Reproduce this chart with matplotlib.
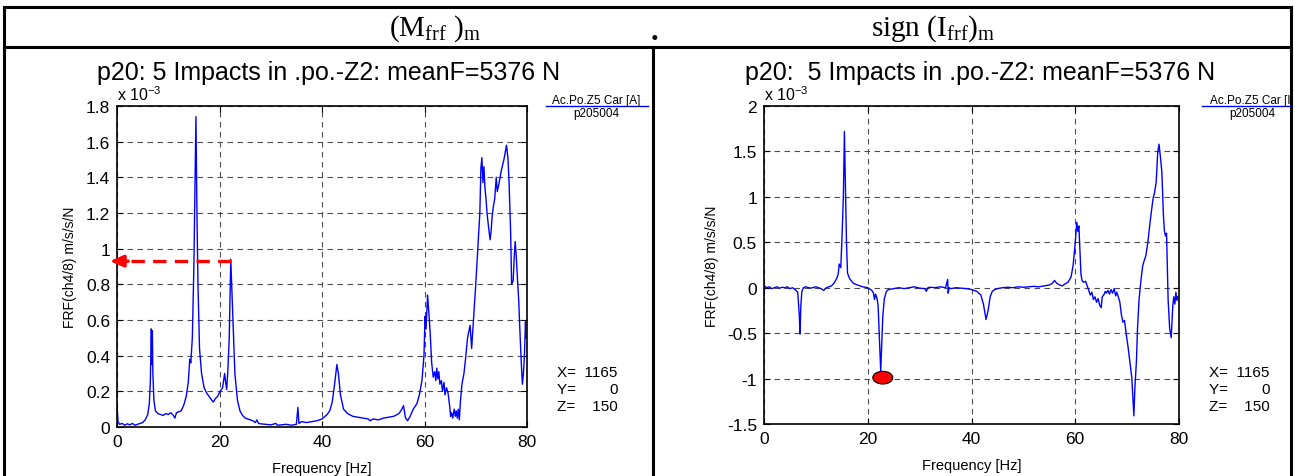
import matplotlib
matplotlib.use('Agg')
import matplotlib.pyplot as plt
from matplotlib.lines import Line2D
from matplotlib.patches import Ellipse, Rectangle
from matplotlib.ticker import FuncFormatter

plt.rcParams['font.family'] = ['Liberation Sans', 'DejaVu Sans']

# magnitude of FRF, values in units of 1e-3 m/s/s/N
mag_freq = [0.0, 0.2, 0.5, 1.0, 1.5, 2.0, 2.5, 3.0, 3.5, 4.0, 4.5, 5.0, 5.5, 6.0, 6.3, 6.5,
            6.7, 6.8, 6.9, 7.0, 7.2, 7.5, 8.0, 8.5, 9.0, 9.5, 10.0, 10.5, 11.0, 11.3, 11.6,
            12.0, 12.5, 13.0, 13.5, 13.9, 14.2, 14.4, 14.7, 15.0, 15.2, 15.4, 15.6, 15.8,
            16.1, 16.5, 17.0, 17.5, 18.0, 18.5, 18.8, 19.2, 19.6, 20.1, 20.6, 21.0, 21.2,
            21.4, 21.6, 21.9, 22.2, 22.5, 22.8, 23.0, 23.5, 24.0, 24.5, 25.0, 26.0, 26.5,
            27.0, 27.3, 27.6, 28.0, 29.0, 30.0, 31.0, 31.3, 32.0, 33.0, 34.0, 35.0, 35.3,
            35.5, 36.0, 37.0, 38.0, 39.0, 40.0, 41.0, 41.5, 42.0, 42.5, 42.9, 43.2, 43.6,
            44.2, 45.0, 46.0, 47.0, 48.0, 49.0, 49.4, 50.0, 51.0, 52.0, 53.0, 54.0, 55.0,
            55.6, 55.9, 56.3, 56.7, 57.2, 57.8, 58.5, 59.0, 59.5, 59.9, 60.1, 60.3, 60.6,
            60.9, 61.1, 61.4, 61.7, 62.0, 62.2, 62.4, 62.6, 62.8, 63.0, 63.3, 63.5, 63.8,
            64.0, 64.3, 64.6, 64.9, 65.1, 65.3, 65.5, 65.8, 66.0, 66.2, 66.4, 66.6, 66.8,
            67.0, 67.3, 67.7, 68.0, 68.4, 68.9, 69.2, 69.6, 70.0, 70.3, 70.5, 70.8, 71.0,
            71.2, 71.4, 71.6, 71.8, 72.0, 72.2, 72.5, 72.8, 73.0, 73.2, 73.4, 73.7, 74.0,
            74.2, 74.5, 75.0, 75.5, 76.0, 76.3, 76.5, 76.8, 77.0, 77.3, 77.5, 77.7, 77.9,
            78.1, 78.4, 78.6, 78.9, 79.1, 79.3, 79.5, 79.7, 79.8]
mag_vals = [0.12, 0.03, 0.015, 0.02, 0.01, 0.018, 0.012, 0.02, 0.01, 0.015, 0.02, 0.025, 0.04,
            0.07, 0.13, 0.25, 0.55, 0.35, 0.54, 0.3, 0.15, 0.09, 0.075, 0.07, 0.065, 0.075,
            0.07, 0.08, 0.065, 0.05, 0.08, 0.085, 0.09, 0.12, 0.17, 0.25, 0.38, 0.36, 0.5,
            0.9, 1.3, 1.74, 1.2, 0.8, 0.44, 0.3, 0.22, 0.19, 0.17, 0.15, 0.14, 0.16, 0.17,
            0.2, 0.22, 0.3, 0.25, 0.21, 0.3, 0.5, 0.94, 0.7, 0.45, 0.3, 0.15, 0.09, 0.065,
            0.05, 0.04, 0.035, 0.025, 0.04, 0.02, 0.018, 0.015, 0.012, 0.02, 0.01, 0.012,
            0.015, 0.01, 0.015, 0.11, 0.02, 0.03, 0.025, 0.03, 0.035, 0.045, 0.07, 0.09,
            0.14, 0.25, 0.35, 0.3, 0.18, 0.1, 0.075, 0.06, 0.055, 0.05, 0.045, 0.035, 0.045,
            0.04, 0.05, 0.055, 0.06, 0.075, 0.1, 0.12, 0.05, 0.035, 0.06, 0.1, 0.13, 0.18,
            0.26, 0.4, 0.62, 0.55, 0.74, 0.62, 0.53, 0.36, 0.28, 0.31, 0.26, 0.33, 0.27,
            0.31, 0.24, 0.26, 0.2, 0.25, 0.18, 0.22, 0.19, 0.12, 0.06, 0.08, 0.05, 0.1, 0.06,
            0.09, 0.05, 0.1, 0.04, 0.14, 0.24, 0.3, 0.38, 0.5, 0.57, 0.44, 0.62, 0.8, 0.95,
            1.05, 1.2, 1.45, 1.51, 1.37, 1.46, 1.34, 1.28, 1.2, 1.12, 1.05, 1.1, 1.18, 1.23,
            1.28, 1.4, 1.32, 1.36, 1.44, 1.5, 1.58, 1.5, 1.37, 1.1, 0.8, 0.82, 0.95, 1.04,
            0.96, 0.85, 0.7, 0.55, 0.35, 0.24, 0.3, 0.4, 0.59, 0.5]

# signed imaginary part, values in units of 1e-3
imag_freq = [0.0, 0.1, 0.5, 1.0, 1.5, 2.0, 2.5, 3.0, 3.5, 4.0, 4.5, 5.0, 5.5, 6.0, 6.5, 6.8,
             6.95, 7.1, 7.3, 7.6, 8.0, 9.0, 10.0, 11.0, 11.5, 12.0, 13.0, 13.5, 14.0, 14.3,
             14.5, 14.8, 15.0, 15.3, 15.5, 15.7, 15.9, 16.1, 16.5, 17.2, 18.0, 19.0, 20.0,
             20.8, 21.1, 21.3, 21.5, 21.8, 22.0, 22.2, 22.5, 22.7, 22.9, 23.2, 23.6, 24.0,
             25.0, 26.0, 27.0, 28.0, 29.0, 30.0, 31.0, 31.3, 31.6, 32.0, 33.0, 34.0, 35.0,
             35.4, 35.5, 35.7, 36.0, 37.0, 38.0, 39.0, 40.0, 41.0, 41.8, 42.3, 42.8, 43.2,
             43.6, 44.0, 44.5, 45.0, 46.0, 47.0, 48.0, 49.0, 50.0, 51.0, 52.0, 53.0, 54.0,
             55.0, 55.6, 56.0, 56.4, 57.0, 57.5, 58.0, 58.6, 59.2, 59.6, 60.0, 60.3, 60.5,
             60.7, 60.9, 61.1, 61.3, 61.6, 62.0, 62.3, 62.6, 62.9, 63.2, 63.5, 63.8, 64.1,
             64.4, 64.7, 65.0, 65.2, 65.5, 65.8, 66.0, 66.3, 66.6, 66.9, 67.2, 67.5, 67.8,
             68.0, 68.3, 68.6, 68.9, 69.2, 69.5, 69.8, 70.2, 70.5, 70.7, 70.9, 71.1, 71.3,
             71.5, 71.8, 72.0, 72.3, 72.7, 73.0, 73.3, 73.6, 74.0, 74.3, 74.7, 75.0, 75.3,
             75.6, 75.9, 76.15, 76.4, 76.7, 77.0, 77.2, 77.4, 77.6, 77.9, 78.2, 78.5, 78.8,
             79.0, 79.2, 79.4, 79.6, 79.8]
imag_vals = [-0.08, 0.02, 0.0, 0.01, -0.01, 0.0, 0.01, -0.005, 0.005, 0.0, 0.01, -0.01, 0.0,
             -0.02, -0.05, -0.3, -0.51, -0.2, -0.04, 0.0, 0.01, -0.005, 0.01, -0.01, -0.03,
             0.0, 0.02, 0.05, 0.1, 0.15, 0.26, 0.22, 0.5, 1.0, 1.72, 1.1, 0.5, 0.16, 0.1,
             0.05, 0.03, 0.01, 0.0, -0.03, -0.06, -0.13, -0.07, -0.12, -0.2, -0.5, -0.92,
             -0.6, -0.31, -0.12, -0.04, -0.02, -0.01, 0.0, -0.01, 0.0, 0.01, -0.005, -0.01,
             -0.04, 0.0, 0.005, 0.0, 0.01, 0.0, 0.09, -0.06, 0.0, -0.01, 0.0, -0.005, -0.01,
             -0.02, -0.04, -0.08, -0.18, -0.35, -0.25, -0.1, -0.04, -0.02, -0.01, 0.0, 0.005,
             0.0, 0.01, 0.005, 0.01, 0.015, 0.01, 0.02, 0.03, 0.05, 0.08, 0.05, 0.03, 0.02,
             0.04, 0.06, 0.12, 0.25, 0.5, 0.72, 0.62, 0.68, 0.4, 0.15, 0.08, 0.06, 0.07,
             0.02, -0.03, -0.08, -0.05, -0.13, -0.1, -0.16, -0.12, -0.19, -0.22, -0.1, -0.08,
             -0.04, -0.06, -0.03, -0.07, -0.02, -0.06, -0.01, -0.09, -0.05, -0.1, -0.16, -0.3,
             -0.38, -0.36, -0.5, -0.66, -0.8, -0.9, -0.99, -1.2, -1.41, -1.1, -0.8, -0.45,
             -0.13, 0.1, 0.24, 0.3, 0.35, 0.5, 0.66, 0.85, 0.98, 1.05, 1.16, 1.49, 1.58, 1.45,
             1.27, 0.79, 0.62, 0.57, 0.6, -0.13, -0.45, -0.55, -0.2, -0.1, -0.18, -0.05, -0.14,
             -0.1]

mag_ticks = [0, 0.2, 0.4, 0.6, 0.8, 1, 1.2, 1.4, 1.6, 1.8]
imag_ticks = [-1.5, -1, -0.5, 0, 0.5, 1, 1.5, 2]
freq_ticks = [0, 20, 40, 60, 80]

title = 'p20: 5 Impacts in .po.-Z2: meanF=5376 N'
title2 = 'p20:  5 Impacts in .po.-Z2: meanF=5376 N'

W, H = 1295, 477
fig = plt.figure(figsize=(W / 100, H / 100), dpi=100)


def fx(x):
    return x / W


def fy(y):
    return 1 - y / H


# table frame around the two plots
for x0, y0, x1, y1 in [(4, 8, 1291, 8), (4, 48, 1291, 48), (4, 8, 4, 477),
                       (1291, 8, 1291, 477), (653, 48, 653, 477)]:
    fig.add_artist(Line2D([fx(x0), fx(x1)], [fy(y0), fy(y1)], color='k', lw=2.2))

fig.text(fx(435), fy(29), r'(M$_{\mathregular{frf}}$ )$_{\mathregular{m}}$',
         family='Liberation Serif', fontsize=21, ha='center', va='center')
fig.text(fx(655), fy(33), '.', family='Liberation Serif', fontsize=22,
         ha='center', va='center', weight='bold')
fig.text(fx(933), fy(29), r'sign (I$_{\mathregular{frf}}$)$_{\mathregular{m}}$',
         family='Liberation Serif', fontsize=21, ha='center', va='center')

fmt = FuncFormatter(lambda v, p: '%g' % v)


def panel(rect, freq, vals, ylim, yticks, ttl, tx, lx, panel_right):
    l, t, r, b = rect
    ax = fig.add_axes([fx(l), fy(b), (r - l) / W, (b - t) / H])
    ax.plot(freq, vals, color='#0000ff', lw=1.0)
    ax.set_xlim(0, 80)
    ax.set_ylim(*ylim)
    ax.set_xticks(freq_ticks)
    ax.set_yticks(yticks)
    ax.yaxis.set_major_formatter(fmt)
    ax.grid(True, color='0.3', linestyle=(0, (5, 4)), lw=0.8)
    ax.tick_params(direction='in', length=4, top=True, right=True, labelsize=12.5, pad=5)
    for s in ax.spines.values():
        s.set_linewidth(1.2)
    ax.set_xlabel('Frequency [Hz]', fontsize=10.5, labelpad=9)
    ax.set_ylabel('FRF(ch4/8) m/s/s/N', fontsize=10, labelpad=6)
    ax.text(0, 1.008, r'x 10$^{\mathregular{-3}}$', transform=ax.transAxes,
            fontsize=11.5, ha='left', va='bottom')
    fig.text(fx(tx), fy(73), ttl, fontsize=18, ha='center', va='center')

    # legend-like label next to the plot
    t1 = fig.text(fx(lx), fy(101), 'Ac.Po.Z5 Car [A]' if lx < 650 else 'Ac.Po.Z5 Car [I]',
                  fontsize=8.5, ha='center', va='center')
    t1.set_clip_path(Rectangle((0, 0), fx(panel_right - 1), 1, transform=fig.transFigure))
    fig.add_artist(Line2D([fx(lx - 50), fx(min(lx + 52, panel_right - 1))], [fy(107), fy(107)],
                          color='#0000ff', lw=1))
    fig.text(fx(lx), fy(114), 'p205004', fontsize=8.5, ha='center', va='center')

    # cursor readout
    xr = r + 30
    for i, s in enumerate(['X=  1165', 'Y=        0', 'Z=    150']):
        fig.text(fx(xr), fy(373 + 17 * i), s, fontsize=11, ha='left', va='center')
    return ax


ax1 = panel((117, 107, 527, 428), mag_freq, mag_vals, (0, 1.8), mag_ticks,
            title, 329, 596, 653)
ax2 = panel((764, 107, 1179, 425), imag_freq, imag_vals, (-1.5, 2), imag_ticks,
            title2, 980, 1252, 1291)

# red arrow from the peak to the y axis
ax1.plot([22.3, 2.0], [0.93, 0.93], color='red', lw=2.4, linestyle=(0, (4, 2.5)),
         clip_on=False, zorder=4)
ax1.annotate('', xy=(-1.4, 0.93), xytext=(2.2, 0.93), annotation_clip=False,
             arrowprops=dict(arrowstyle='-|>,head_length=0.8,head_width=0.35',
                             color='red', lw=2.4, shrinkA=0, shrinkB=0), zorder=4)

# red marker at the minimum of the imaginary part
ax2.add_patch(Ellipse((22.9, -0.99), 3.85, 0.14, facecolor='red', edgecolor='k',
                      lw=0.8, zorder=5))

fig.savefig('out.png', dpi=100)
